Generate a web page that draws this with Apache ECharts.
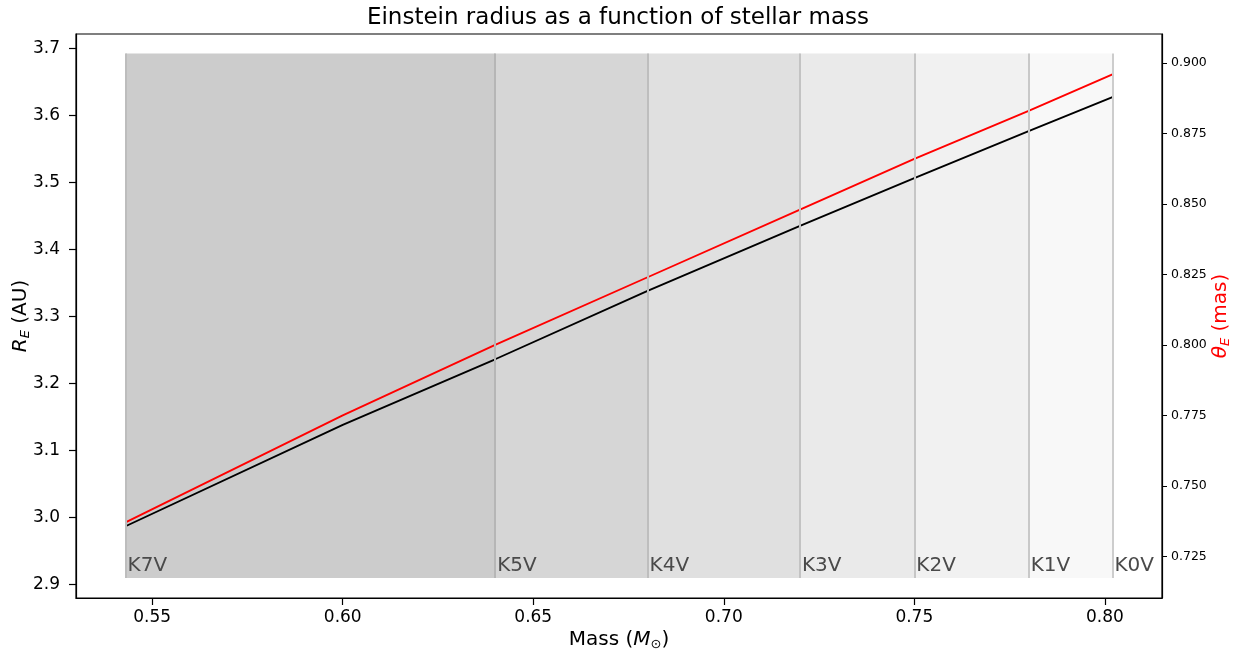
<!DOCTYPE html>
<html>
<head>
<meta charset="utf-8">
<title>Einstein radius as a function of stellar mass</title>
<script src="https://cdn.jsdelivr.net/npm/echarts@6/dist/echarts.min.js"></script>
<style>
  html, body { margin: 0; padding: 0; background: #ffffff; }
  #chart { width: 1236px; height: 651px; }
</style>
</head>
<body>
<div id="chart"></div>
<script>
// Stellar mass (solar masses) and the corresponding Einstein radius
const mass      = [0.543, 0.600, 0.640, 0.680, 0.720, 0.750, 0.780, 0.802];
const radiusAU  = [2.987, 3.138, 3.236, 3.338, 3.435, 3.506, 3.576, 3.627];
const thetaMas  = [0.737, 0.775, 0.800, 0.824, 0.848, 0.866, 0.883, 0.896];

// Spectral classes and the mass at which each band starts
const spectralTypes = ['K7V', 'K5V', 'K4V', 'K3V', 'K2V', 'K1V', 'K0V'];
const typeMass      = [0.543, 0.640, 0.680, 0.720, 0.750, 0.780, 0.802];

// Tick labels
const massTicks   = [0.55, 0.60, 0.65, 0.70, 0.75, 0.80];
const radiusTicks = [2.9, 3.0, 3.1, 3.2, 3.3, 3.4, 3.5, 3.6, 3.7];
const thetaTicks  = [0.725, 0.750, 0.775, 0.800, 0.825, 0.850, 0.875, 0.900];

const FONT = 'DejaVu Sans';
const bandFill = ['#cccccc', '#d6d6d6', '#e0e0e0', '#eaeaea', '#f1f1f1', '#f8f8f8', 'rgba(0,0,0,0)'];
const edgeColor = ['#bdbdbd', '#b6b6b6', '#bebebe', '#c3c3c3', '#c6c6c6', '#c8c8c8', '#cdcdcd'];
const bandLow = 2.91, bandHigh = 3.692;
const xMin = 0.530, xMax = 0.815;

const pairs = (xs, ys) => xs.map((x, i) => [x, ys[i]]);

const areas = spectralTypes.map((name, i) => {
  const x0 = typeMass[i];
  const x1 = i + 1 < typeMass.length ? typeMass[i + 1] : xMax;
  return [
    { name: name, xAxis: x0, yAxis: bandLow, itemStyle: { color: bandFill[i] } },
    { xAxis: x1, yAxis: bandHigh }
  ];
});

const edges = typeMass.map((x, i) => [
  { coord: [x, bandLow], lineStyle: { color: edgeColor[i] } },
  { coord: [x, bandHigh] }
]);

const sub = { fontFamily: FONT, fontSize: 13, fontStyle: 'italic', padding: [9, 0, 0, 0] };

const chart = echarts.init(document.getElementById('chart'), null, { renderer: 'canvas' });
chart.setOption({
  animation: false,
  backgroundColor: '#ffffff',
  title: {
    text: 'Einstein radius as a function of stellar mass',
    left: 'center',
    top: 7,
    padding: 0,
    textStyle: { fontFamily: FONT, fontSize: 23, fontWeight: 'normal', color: '#000' }
  },
  grid: {
    left: 76, right: 74, top: 34, bottom: 53,
    outerBoundsMode: 'none',
    containLabel: false,
    show: true, borderColor: '#000', borderWidth: 1.2, backgroundColor: 'transparent'
  },
  xAxis: {
    type: 'value', min: xMin, max: xMax,
    name: '{t|Mass (}{i|M}{s|⊙}{t|)}',
    nameLocation: 'middle', nameGap: 31, nameMoveOverlap: false,
    nameTextStyle: {
      rich: {
        t: { fontFamily: FONT, fontSize: 20, color: '#000' },
        i: { fontFamily: FONT, fontSize: 20, fontStyle: 'italic', color: '#000' },
        s: { fontFamily: FONT, fontSize: 13, color: '#000', padding: [9, 0, 0, 0] }
      }
    },
    axisLine: { show: true, onZero: false, lineStyle: { color: '#000', width: 1.2 } },
    axisTick: { show: true, customValues: massTicks, length: 7, lineStyle: { color: '#000', width: 1.2 } },
    axisLabel: {
      customValues: massTicks, margin: 11,
      fontFamily: FONT, fontSize: 17, color: '#000',
      formatter: v => v.toFixed(2)
    },
    splitLine: { show: false }
  },
  yAxis: [
    {
      type: 'value', min: 2.880, max: 3.721, position: 'left',
      name: '{i|R}{s|E}{t| (AU)}',
      nameLocation: 'middle', nameGap: 44, nameRotate: 90, nameMoveOverlap: false,
      nameTextStyle: {
        rich: {
          t: { fontFamily: FONT, fontSize: 20, color: '#000' },
          i: { fontFamily: FONT, fontSize: 20, fontStyle: 'italic', color: '#000' },
          s: Object.assign({ color: '#000' }, sub)
        }
      },
      axisLine: { show: true, onZero: false, lineStyle: { color: '#000', width: 1.2 } },
      axisTick: { show: true, customValues: radiusTicks, length: 7, lineStyle: { color: '#000', width: 1.2 } },
      axisLabel: {
        customValues: radiusTicks, margin: 16,
        fontFamily: FONT, fontSize: 17, color: '#000',
        formatter: v => v.toFixed(1)
      },
      splitLine: { show: false }
    },
    {
      type: 'value', min: 0.7102, max: 0.9103, position: 'right',
      name: '{i|θ}{s|E}{t| (mas)}',
      nameLocation: 'middle', nameGap: 48, nameRotate: 90, nameMoveOverlap: false,
      nameTextStyle: {
        rich: {
          t: { fontFamily: FONT, fontSize: 20, color: '#ff0000' },
          i: { fontFamily: FONT, fontSize: 20, fontStyle: 'italic', color: '#ff0000' },
          s: Object.assign({ color: '#ff0000' }, sub)
        }
      },
      axisLine: { show: true, onZero: false, lineStyle: { color: '#000', width: 1.2 } },
      axisTick: { show: true, customValues: thetaTicks, length: 5, lineStyle: { color: '#000', width: 1 } },
      axisLabel: {
        customValues: thetaTicks, margin: 9,
        fontFamily: FONT, fontSize: 12.5, color: '#000',
        formatter: v => v.toFixed(3)
      },
      splitLine: { show: false }
    }
  ],
  series: [
    {
      // spectral class bands with their edges and names
      type: 'line', yAxisIndex: 0, data: [], z: 1, silent: true,
      markArea: {
        silent: true,
        label: {
          show: true, position: 'insideBottomLeft', distance: 2,
          fontFamily: FONT, fontSize: 20, color: '#4a4a4a'
        },
        data: areas
      },
      markLine: {
        silent: true, symbol: ['none', 'none'],
        label: { show: false },
        lineStyle: { type: 'solid', width: 2 },
        data: edges
      }
    },
    {
      name: 'R_E', type: 'line', yAxisIndex: 0, z: 3,
      data: pairs(mass, radiusAU), smooth: false, showSymbol: false,
      lineStyle: { color: '#000000', width: 1.9 }
    },
    {
      name: 'theta_E', type: 'line', yAxisIndex: 1, z: 3,
      data: pairs(mass, thetaMas), smooth: false, showSymbol: false,
      lineStyle: { color: '#ff0000', width: 1.9 }
    }
  ]
});
</script>
</body>
</html>
